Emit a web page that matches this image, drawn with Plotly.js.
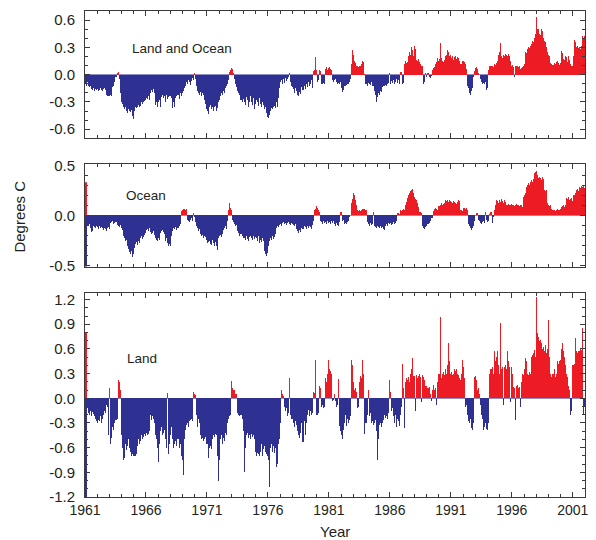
<!DOCTYPE html>
<html><head><meta charset="utf-8">
<script src="https://cdn.plot.ly/plotly-3.0.1.min.js"></script>
<style>html,body{margin:0;padding:0;background:#fff;} #chart{width:596px;height:540px;}</style>
</head><body><div id="chart"></div>
<script>
const startYear = 1961;
const tickYears = [1961,1966,1971,1976,1981,1986,1991,1996,2001];
const panelLabels = ["Land and Ocean","Ocean","Land"];
const yTicksLO = [-0.6,-0.3,0,0.3,0.6];
const yTicksOcean = [-0.5,0,0.5];
const yTicksLand = [-1.2,-0.9,-0.6,-0.3,0,0.3,0.6,0.9,1.2];

// monthly anomalies (deg C), Jan 1961 - Dec 2001, one row per year
const landOcean = [
-0.10,-0.12,-0.08,-0.13,-0.14,-0.12,-0.16,-0.17,-0.15,-0.18,-0.16,-0.17,
-0.16,-0.18,-0.17,-0.15,-0.17,-0.18,-0.16,-0.15,-0.17,-0.22,-0.24,-0.23,
-0.24,-0.22,-0.23,-0.14,-0.12,-0.08,-0.03,0.02,0.03,-0.05,-0.2,-0.3,
-0.32,-0.36,-0.38,-0.35,-0.4,-0.42,-0.38,-0.4,-0.41,-0.39,-0.45,-0.49,
-0.4,-0.36,-0.37,-0.35,-0.33,-0.36,-0.34,-0.3,-0.32,-0.3,-0.29,-0.28,
-0.26,-0.27,-0.24,-0.28,-0.2,-0.17,-0.19,-0.16,-0.2,-0.33,-0.3,-0.35,
-0.3,-0.28,-0.36,-0.25,-0.22,-0.26,-0.24,-0.3,-0.22,-0.27,-0.25,-0.23,
-0.24,-0.26,-0.37,-0.3,-0.35,-0.26,-0.24,-0.22,-0.27,-0.2,-0.24,-0.2,
-0.18,-0.15,-0.12,-0.08,-0.1,-0.06,-0.08,-0.11,-0.07,-0.04,-0.06,0.02,
-0.05,-0.12,-0.18,-0.2,-0.22,-0.19,-0.24,-0.2,-0.22,-0.28,-0.32,-0.38,
-0.4,-0.43,-0.36,-0.33,-0.38,-0.35,-0.4,-0.36,-0.34,-0.4,-0.37,-0.3,
-0.28,-0.24,-0.2,-0.22,-0.18,-0.2,-0.15,-0.12,-0.1,-0.06,0.03,0.05,
0.07,0.06,0.02,-0.05,-0.1,-0.14,-0.18,-0.2,-0.22,-0.28,-0.3,-0.27,
-0.3,-0.33,-0.25,-0.28,-0.36,-0.3,-0.24,-0.3,-0.33,-0.26,-0.38,-0.32,
-0.28,-0.3,-0.34,-0.26,-0.32,-0.36,-0.3,-0.33,-0.38,-0.36,-0.42,-0.46,
-0.48,-0.44,-0.4,-0.37,-0.38,-0.36,-0.34,-0.37,-0.3,-0.35,-0.26,-0.15,
-0.08,-0.06,-0.1,-0.05,-0.09,-0.04,-0.07,-0.05,-0.03,0.02,-0.08,-0.12,
-0.14,-0.16,-0.2,-0.15,-0.18,-0.22,-0.23,-0.19,-0.21,-0.14,-0.17,-0.12,
-0.16,-0.1,-0.14,-0.08,-0.12,-0.1,-0.06,-0.15,0.04,0.05,0.19,0.05,
-0.08,-0.06,0.05,0.04,-0.1,-0.1,-0.09,-0.1,0.06,0.08,0.05,0.07,
0.08,0.06,0.05,-0.06,-0.08,-0.06,-0.05,-0.08,-0.1,-0.09,-0.1,-0.08,
-0.15,-0.19,-0.17,-0.13,-0.12,-0.11,-0.1,-0.1,-0.08,-0.05,0.12,0.27,
0.22,0.15,0.13,0.1,0.09,0.08,0.1,0.1,0.12,0.15,0.14,0.01,
-0.1,-0.12,-0.09,-0.1,-0.11,-0.08,-0.12,-0.13,-0.18,-0.22,-0.3,-0.25,
-0.2,-0.22,-0.18,-0.19,-0.14,-0.12,-0.13,-0.11,-0.12,-0.1,-0.09,0.02,
-0.1,-0.07,-0.09,-0.06,-0.1,-0.08,-0.05,-0.09,-0.06,-0.1,0.03,0.03,
-0.1,-0.09,0.12,0.15,0.13,0.14,0.2,0.25,0.22,0.3,0.27,0.2,
0.31,0.28,0.16,0.15,0.17,0.14,0.12,0.1,0.09,-0.1,-0.08,0.02,
-0.03,0.02,-0.03,-0.04,-0.02,0.05,0.07,0.08,0.12,0.14,0.18,0.15,
0.17,0.35,0.18,0.15,0.14,0.16,0.2,0.22,0.27,0.25,0.2,0.22,
0.18,0.2,0.16,0.19,0.2,0.17,0.19,0.18,0.15,0.12,0.12,0.15,
0.15,0.14,0.12,0.06,-0.12,-0.15,-0.2,-0.22,-0.18,-0.15,-0.03,0.04,
0.07,0.08,0.06,0.02,0.0,-0.05,-0.08,-0.1,-0.09,-0.1,-0.08,-0.17,
-0.15,0.05,0.1,0.09,0.1,0.08,0.12,0.11,0.13,0.15,0.22,0.25,
0.35,0.2,0.18,0.22,0.2,0.23,0.22,0.21,0.23,0.2,0.15,0.1,
0.11,0.08,-0.03,0.1,0.09,0.1,0.08,0.1,0.06,0.07,0.08,0.1,
0.12,0.25,0.24,0.28,0.3,0.29,0.32,0.34,0.37,0.36,0.4,0.45,
0.63,0.5,0.5,0.45,0.44,0.5,0.48,0.4,0.37,0.36,0.3,0.25,
0.22,0.2,0.13,0.12,0.11,0.13,0.12,0.14,0.15,0.13,0.11,0.13,
0.26,0.24,0.17,0.16,0.2,0.19,0.14,0.21,0.16,0.12,0.1,0.09,
0.2,0.38,0.36,0.3,0.31,0.29,0.3,0.28,0.32,0.42,0.4,0.42
];

const ocean = [
-0.05,-0.07,-0.09,-0.1,-0.08,-0.12,-0.16,-0.15,-0.1,-0.11,-0.12,-0.1,
-0.11,-0.13,-0.1,-0.12,-0.11,-0.12,-0.14,-0.12,-0.13,-0.15,-0.12,-0.11,
-0.13,-0.07,-0.06,-0.05,-0.08,-0.07,-0.06,-0.09,-0.1,-0.11,-0.09,-0.12,
-0.14,-0.2,-0.22,-0.25,-0.24,-0.3,-0.33,-0.36,-0.38,-0.35,-0.41,-0.38,
-0.32,-0.28,-0.26,-0.29,-0.25,-0.27,-0.22,-0.2,-0.23,-0.21,-0.19,-0.17,
-0.14,-0.13,-0.15,-0.12,-0.16,-0.18,-0.17,-0.15,-0.19,-0.22,-0.24,-0.25,
-0.22,-0.24,-0.17,-0.15,-0.14,-0.16,-0.18,-0.25,-0.22,-0.27,-0.3,-0.28,
-0.3,-0.2,-0.15,-0.12,-0.13,-0.11,-0.14,-0.12,-0.1,-0.08,0.04,0.05,
0.06,0.06,0.05,0.06,-0.04,-0.05,-0.06,-0.04,-0.03,-0.05,0.02,-0.02,
-0.06,-0.1,-0.12,-0.15,-0.13,-0.18,-0.2,-0.19,-0.22,-0.2,-0.21,-0.24,
-0.27,-0.26,-0.25,-0.28,-0.29,-0.24,-0.27,-0.3,-0.26,-0.3,-0.34,-0.22,
-0.2,-0.19,-0.21,-0.18,-0.14,-0.12,-0.1,-0.13,-0.05,0.05,0.12,0.07,
0.05,-0.04,-0.06,-0.08,-0.1,-0.09,-0.15,-0.17,-0.2,-0.18,-0.2,-0.22,
-0.22,-0.24,-0.2,-0.23,-0.25,-0.21,-0.2,-0.22,-0.24,-0.2,-0.23,-0.21,
-0.22,-0.25,-0.2,-0.27,-0.24,-0.26,-0.22,-0.25,-0.35,-0.38,-0.4,-0.37,
-0.3,-0.25,-0.22,-0.24,-0.2,-0.23,-0.21,-0.18,-0.12,-0.1,-0.11,-0.09,
-0.08,-0.1,-0.07,-0.06,-0.08,-0.07,-0.09,-0.07,-0.06,-0.08,-0.09,-0.07,
-0.08,-0.09,-0.1,-0.08,-0.13,-0.15,-0.17,-0.14,-0.16,-0.12,-0.13,-0.1,
-0.11,-0.13,-0.1,-0.12,-0.1,-0.11,-0.13,-0.09,-0.05,0.05,0.06,0.09,
0.07,0.05,0.03,-0.05,-0.06,-0.08,-0.05,-0.07,-0.06,-0.08,-0.05,-0.07,
-0.06,-0.08,-0.05,-0.07,-0.05,-0.08,-0.1,-0.07,-0.09,-0.1,-0.06,0.03,
0.03,-0.05,-0.04,-0.08,-0.07,-0.08,-0.06,-0.05,-0.02,0.0,0.12,0.16,
0.22,0.2,0.15,0.1,0.05,0.04,0.05,0.04,0.05,0.06,0.06,0.06,
0.05,-0.06,-0.08,-0.1,-0.07,-0.09,-0.08,0.03,-0.1,-0.11,-0.12,-0.1,
-0.11,-0.12,-0.1,-0.12,-0.11,-0.13,-0.14,-0.1,-0.08,-0.1,-0.07,-0.08,
-0.07,-0.09,-0.08,-0.06,-0.08,-0.07,-0.05,0.02,0.02,0.01,0.05,0.04,
0.05,0.06,0.05,0.1,0.13,0.17,0.2,0.22,0.24,0.25,0.26,0.22,
0.18,0.16,0.15,0.12,0.08,0.03,0.03,0.02,-0.1,-0.12,-0.13,-0.11,
-0.1,-0.08,-0.07,-0.05,-0.03,-0.03,0.04,0.06,0.07,0.06,0.05,0.09,
0.09,0.1,0.12,0.1,0.11,0.12,0.15,0.14,0.15,0.13,0.15,0.14,
0.13,0.12,0.14,0.13,0.12,0.11,0.13,0.15,0.14,0.05,0.05,0.04,
0.07,0.07,0.06,0.07,0.05,-0.08,-0.1,-0.12,-0.14,-0.12,-0.1,-0.05,
0.0,0.02,0.02,-0.04,-0.05,-0.07,-0.08,-0.06,-0.05,-0.07,0.03,-0.04,
-0.06,-0.05,0.01,0.03,-0.07,-0.02,0.05,0.1,0.15,0.14,0.12,0.15,
0.13,0.16,0.14,0.12,0.15,0.13,0.1,0.1,0.11,0.1,0.1,0.11,
0.1,0.1,0.09,0.1,0.11,0.1,0.1,0.09,0.1,0.1,0.08,0.18,
0.2,0.22,0.28,0.3,0.32,0.3,0.33,0.35,0.33,0.36,0.42,0.43,
0.44,0.4,0.37,0.38,0.37,0.35,0.38,0.36,0.25,0.24,0.25,0.12,
0.1,0.09,0.1,0.06,0.05,0.05,0.04,0.05,0.06,0.05,0.05,0.06,
0.08,0.09,0.1,0.08,0.1,0.17,0.16,0.18,0.15,0.16,0.17,0.14,
0.2,0.2,0.22,0.25,0.26,0.24,0.28,0.27,0.29,0.28,0.29,0.27
];

const land = [
-0.15,-0.26,-0.12,-0.18,-0.2,-0.15,-0.22,-0.17,-0.19,-0.22,-0.25,-0.28,
-0.3,-0.26,-0.28,-0.22,-0.3,-0.25,-0.2,-0.16,-0.18,-0.08,-0.1,-0.45,
0.12,-0.55,-0.48,-0.35,-0.38,-0.3,-0.26,-0.25,0.22,0.2,0.1,-0.45,
-0.6,-0.75,-0.72,-0.55,-0.63,-0.58,-0.5,-0.6,-0.65,-0.7,-0.68,-0.7,
-0.7,-0.7,-0.68,-0.58,-0.5,-0.55,-0.52,-0.45,-0.5,-0.47,-0.44,-0.46,
-0.42,-0.45,-0.44,-0.4,-0.2,-0.26,-0.22,-0.25,-0.3,-0.45,-0.5,-0.6,
-0.78,-0.55,-0.4,-0.35,-0.45,-0.42,-0.38,-0.5,-0.6,0.07,-0.68,-0.55,
-0.45,-0.35,-0.5,-0.6,-0.55,-0.52,-0.58,-0.5,-0.6,-0.55,-0.7,-0.75,
-0.93,-0.5,-0.38,-0.32,-0.3,-0.35,-0.28,-0.27,-0.25,-0.28,0.08,0.05,
0.04,-0.2,-0.35,-0.25,-0.3,-0.45,-0.5,-0.48,-0.52,-0.5,-0.47,-0.55,
-0.55,-0.73,-0.6,-0.58,-0.62,-0.5,-0.45,-0.47,-0.44,-0.45,-0.7,-1.0,
-0.75,-0.5,-0.45,-0.55,-0.48,-0.52,-0.42,-0.45,-0.3,-0.25,-0.22,-0.2,
0.21,0.12,0.1,0.1,0.05,0.05,-0.18,-0.2,-0.22,-0.2,-0.25,-0.4,
-0.9,-0.6,-0.45,-0.42,-0.48,-0.45,-0.5,-0.44,-0.47,-0.45,-0.5,-0.65,
-0.7,-0.66,-0.68,-0.7,-0.65,-0.55,-0.7,-0.62,-0.58,-0.65,-0.68,-0.7,
-0.75,-1.08,-0.6,-0.55,-0.65,-0.58,-0.67,-0.6,-0.83,-0.8,-0.55,-0.5,
-0.3,0.1,0.05,0.03,-0.1,-0.15,-0.12,-0.22,-0.18,0.25,-0.2,-0.25,
-0.25,-0.3,-0.35,-0.28,-0.32,-0.4,-0.45,-0.48,-0.42,-0.3,-0.53,-0.28,
-0.45,-0.3,-0.2,-0.14,-0.22,-0.16,-0.2,-0.18,0.08,0.06,0.46,-0.2,
-0.2,-0.18,0.15,0.12,-0.1,-0.08,-0.12,-0.1,0.25,0.2,0.3,0.46,
0.35,0.33,0.3,-0.03,-0.02,0.05,-0.03,-0.1,-0.08,0.23,-0.34,-0.4,
-0.45,-0.5,-0.38,-0.3,-0.2,-0.34,-0.25,-0.3,-0.26,-0.22,0.47,0.4,
0.2,0.1,0.12,0.08,-0.12,-0.1,0.2,0.27,0.25,0.47,0.3,-0.43,
-0.3,-0.2,0.1,-0.22,-0.18,-0.3,-0.28,-0.32,-0.3,-0.27,-0.4,-0.75,
-0.5,-0.32,-0.3,-0.35,-0.3,-0.26,-0.2,-0.24,-0.22,-0.25,-0.18,0.22,
0.08,-0.15,-0.12,-0.22,-0.3,-0.2,-0.35,-0.25,-0.28,-0.34,-0.2,-0.1,
0.42,0.12,-0.36,0.2,0.25,0.22,0.26,0.2,0.3,0.35,0.49,0.27,
0.27,-0.15,0.28,0.25,0.27,0.3,0.26,-0.05,0.28,0.26,0.22,0.15,
0.15,0.12,0.14,0.05,-0.03,0.1,0.16,0.1,0.12,-0.08,0.2,0.3,
0.3,0.99,0.25,0.3,0.32,0.28,0.35,0.3,0.4,0.67,0.45,0.3,
0.32,0.28,0.3,0.35,0.33,0.35,0.3,0.28,0.25,0.22,0.3,0.47,
0.38,0.25,-0.1,-0.08,-0.2,-0.28,-0.3,-0.25,-0.36,-0.38,-0.3,0.26,
0.27,0.22,0.1,0.12,0.05,-0.08,-0.2,-0.25,-0.38,-0.35,-0.3,-0.37,
-0.38,-0.3,0.3,0.36,0.38,0.3,0.57,0.45,0.5,0.57,0.4,0.3,
0.91,0.35,0.38,-0.08,0.38,0.4,0.35,0.57,0.45,0.38,-0.05,0.38,
0.3,0.14,0.12,-0.26,0.15,0.16,0.12,0.14,-0.1,0.2,0.3,0.28,
0.35,0.49,0.45,0.3,0.28,0.32,0.3,0.5,0.52,0.55,0.59,0.5,
1.23,0.79,0.75,0.7,0.71,0.67,0.6,0.62,0.57,0.65,0.55,0.6,
0.95,0.5,0.3,0.26,0.3,0.35,0.26,0.3,0.45,0.42,0.45,0.47,
0.6,0.67,0.57,0.5,0.4,0.3,0.26,0.15,0.1,-0.2,-0.15,0.4,
0.4,0.42,0.73,0.57,0.55,0.58,0.57,0.6,0.59,0.85,-0.2,-0.1
];

const RED = '#ED1C24', BLUE = '#2E3192', AX = '#3a3a3a';
const FONT = 'Liberation Sans, Arial, Helvetica, sans-serif';
const months = landOcean.map((_, i) => startYear + (i + 0.5) / 12);

function barTrace(vals, n) {
  return {
    type: 'bar', x: months, y: vals,
    xaxis: 'x' + n, yaxis: 'y' + n,
    marker: {color: vals.map(v => v >= 0 ? RED : BLUE), line: {width: 0}},
    hoverinfo: 'skip', showlegend: false
  };
}

function xAxis(anchor, labels) {
  return {
    anchor: anchor, domain: [0, 1], range: [1961, 2002],
    tickmode: 'array', tickvals: tickYears, ticktext: tickYears.map(String),
    showticklabels: labels,
    ticks: 'inside', ticklen: 5, tickwidth: 1, tickcolor: AX,
    minor: {tickmode: 'linear', tick0: 1961, dtick: 1, ticks: 'inside', ticklen: 3, tickwidth: 1, tickcolor: AX},
    showline: true, linecolor: AX, linewidth: 1, mirror: 'ticks',
    showgrid: false, zeroline: false,
    tickfont: {family: FONT, size: 14, color: '#231f20'}
  };
}
function yAxis(anchor, domain, range, ticks) {
  return {
    anchor: anchor, domain: domain, range: range,
    tickmode: 'array', tickvals: ticks, ticktext: ticks.map(v => v.toFixed(1)),
    ticks: 'inside', ticklen: 5, tickwidth: 1, tickcolor: AX,
    minor: {tickmode: 'linear', tick0: 0, dtick: 0.1, ticks: 'inside', ticklen: 3, tickwidth: 1, tickcolor: AX},
    showline: true, linecolor: AX, linewidth: 1, mirror: 'ticks',
    showgrid: false, zeroline: true, zerolinecolor: '#8d90c6', zerolinewidth: 1,
    ticklabelstandoff: 6,
    tickfont: {family: FONT, size: 15, color: '#231f20'}
  };
}

const data = [barTrace(landOcean, ''), barTrace(ocean, '2'), barTrace(land, '3')];

const annFont = {family: FONT, size: 13.5, color: '#231f20'};
const layout = {
  width: 596, height: 540,
  margin: {l: 85, r: 11, t: 11, b: 43},
  paper_bgcolor: '#fff', plot_bgcolor: '#fff',
  bargap: 0, barmode: 'overlay',
  xaxis: xAxis('y', false),
  xaxis2: xAxis('y2', false),
  xaxis3: xAxis('y3', true),
  yaxis: yAxis('x', [0.738, 1], [-0.7, 0.7], yTicksLO),
  yaxis2: yAxis('x2', [0.4739, 0.6846], [-0.51, 0.51], yTicksOcean),
  yaxis3: yAxis('x3', [0, 0.4198], [-1.2, 1.28], yTicksLand),
  shapes: [
    {type: 'line', xref: 'x2 domain', yref: 'y2', x0: 0.002, x1: 0.002, y0: 0, y1: 0.33, line: {color: RED, width: 2}},
    {type: 'line', xref: 'x2 domain', yref: 'y2', x0: 0.002, x1: 0.002, y0: 0, y1: -0.51, line: {color: BLUE, width: 2}},
    {type: 'line', xref: 'x3 domain', yref: 'y3', x0: 0.002, x1: 0.002, y0: 0, y1: 0.8, line: {color: RED, width: 2}},
    {type: 'line', xref: 'x3 domain', yref: 'y3', x0: 0.002, x1: 0.002, y0: 0, y1: -1.2, line: {color: BLUE, width: 2}}
  ],
  annotations: [
    {text: panelLabels[0], xref: 'paper', yref: 'paper', x: 0.194, y: 0.922, showarrow: false, font: annFont, xanchor: 'center', yanchor: 'middle'},
    {text: panelLabels[1], xref: 'paper', yref: 'paper', x: 0.122, y: 0.621, showarrow: false, font: annFont, xanchor: 'center', yanchor: 'middle'},
    {text: panelLabels[2], xref: 'paper', yref: 'paper', x: 0.114, y: 0.2846, showarrow: false, font: annFont, xanchor: 'center', yanchor: 'middle'},
    {text: 'Degrees C', xref: 'paper', yref: 'paper', x: -0.13, y: 0.577, textangle: -90, showarrow: false, font: {family: FONT, size: 15, color: '#231f20'}, xanchor: 'center', yanchor: 'middle'},
    {text: 'Year', xref: 'paper', yref: 'paper', x: 0.5, y: -0.072, showarrow: false, font: {family: FONT, size: 15, color: '#231f20'}, xanchor: 'center', yanchor: 'middle'}
  ]
};

Plotly.newPlot('chart', data, layout, {staticPlot: true, displayModeBar: false});
</script>
</body></html>
